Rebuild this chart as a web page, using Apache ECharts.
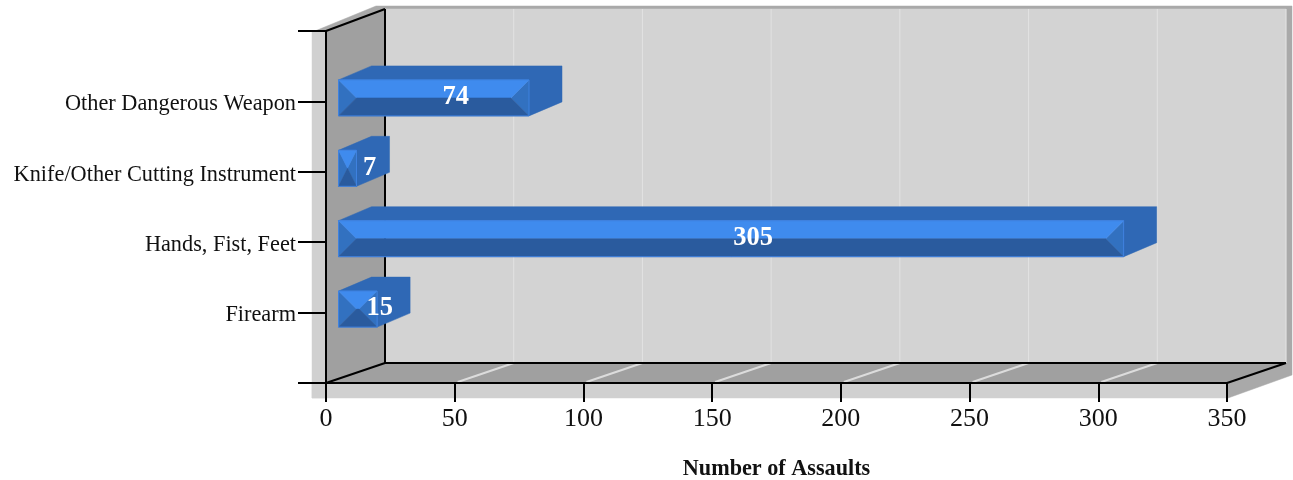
<!DOCTYPE html>
<html>
<head>
<meta charset="utf-8">
<style>html,body{margin:0;padding:0;background:#fff}#c{width:1293px;height:480px}</style>
<script src="https://cdn.jsdelivr.net/npm/echarts@6/dist/echarts.min.js"></script>
</head>
<body>
<div id="c"></div>
<script>
const categories = ['Firearm', 'Hands, Fist, Feet', 'Knife/Other Cutting Instrument', 'Other Dangerous Weapon'];
const assaults = [15, 305, 7, 74];
const xTicks = [0, 50, 100, 150, 200, 250, 300, 350];
const axisTitle = 'Number of Assaults';

const FONT = '"Liberation Serif", serif';
const xMax = xTicks[xTicks.length - 1];
const axisCats = [' '].concat(categories, ['  ']);
const rowMax = axisCats.length - 1;

function poly(points, fill, z2) {
  return { type: 'polygon', shape: { points }, style: { fill, stroke: fill, lineWidth: 0.5 }, z2: z2 || 0 };
}
function line(a, b, stroke, w, z2) {
  return { type: 'line', shape: { x1: a[0], y1: a[1], x2: b[0], y2: b[1] }, style: { stroke, lineWidth: w }, z2: z2 || 0 };
}

function renderWalls(params, api) {
  const bl = api.coord([0, 0]), tr = api.coord([xMax, rowMax]);
  const L = bl[0], B = bl[1], R = tr[0], T = tr[1];
  const dx = 59, dyB = -20, dyT = -22;
  const kids = [
    poly([[L - 14, T], [L, T], [L, B + 15], [L - 14, B + 15]], '#d0d0d0'),
    poly([[L - 14, B], [R, B], [R, B + 15], [L - 14, B + 15]], '#d0d0d0'),
    poly([[L - 11, T], [L + dx - 9, T + dyT - 3], [R + dx + 6, T + dyT - 3], [R + dx + 6, B + dyB + 12], [R + 1, B + 15], [R, B], [L, B], [L, T]], '#a9a9a9'),
    poly([[L + dx, T + dyT], [R + dx, T + dyT], [R + dx, B + dyB], [L + dx, B + dyB]], '#d3d3d3'),
    poly([[L, T], [L + dx, T + dyT], [L + dx, B + dyB], [L, B]], '#a0a0a0'),
    poly([[L, B], [L + dx, B + dyB], [R + dx, B + dyB], [R, B]], '#a0a0a0')
  ];
  xTicks.slice(1).forEach(t => {
    const x = api.coord([t, 0])[0];
    kids.push(line([x + dx, T + dyT], [x + dx, B + dyB], '#e2e2e2', 1, 1));
    if (t < xMax) kids.push(line([x + 3, B - 1], [x + dx, B + dyB], '#dcdcdc', 2, 1));
  });
  kids.push(line([L, T], [L + dx, T + dyT], '#000', 2, 2));
  kids.push(line([L + dx, T + dyT], [L + dx, B + dyB], '#000', 2, 2));
  kids.push(line([L, B], [L + dx, B + dyB], '#000', 2, 2));
  kids.push(line([L + dx, B + dyB], [R + dx, B + dyB], '#000', 2, 2));
  kids.push(line([R, B], [R + dx, B + dyB], '#000', 2, 2));
  return { type: 'group', children: kids };
}

function renderBar(params, api) {
  const v = api.value(0), row = api.value(1);
  const base = api.coord([0, row]), end = api.coord([v, row]);
  const xL = base[0] + 12.5, xR = end[0] + 12.5;
  const yM = base[1] - 3.5, yT = yM - 18, yB = yM + 18;
  const ox = 33, oy = -14;
  const inset = Math.min(18, (xR - xL) / 2);
  const mL = xL + inset, mR = xR - inset;
  return {
    type: 'group',
    children: [
      poly([[xL, yT], [xL + ox, yT + oy], [xR + ox, yT + oy], [xR + ox, yB + oy], [xR, yB], [xR, yT]], '#2f68b5'),
      poly([[xL, yT], [mL, yM], [xL, yB]], '#3271c0', 1),
      poly([[xR, yT], [mR, yM], [xR, yB]], '#3271c0', 1),
      poly([[xL, yT], [xR, yT], [mR, yM], [mL, yM]], '#3f8bee', 1),
      poly([[xL, yB], [xR, yB], [mR, yM], [mL, yM]], '#2a5b9e', 1),
      { type: 'rect', shape: { x: xL, y: yT, width: xR - xL, height: yB - yT },
        style: { fill: 'none', stroke: '#3f82e0', lineWidth: 1 }, z2: 2 },
      { type: 'text', x: (xL + xR) / 2 + 22, y: base[1] - 4, z2: 3,
        style: { text: String(v), fill: '#fff', font: 'bold 26.5px ' + FONT, align: 'center', verticalAlign: 'middle' } }
    ]
  };
}

const chart = echarts.init(document.getElementById('c'), null, { renderer: 'canvas' });
chart.setOption({
  animation: false,
  backgroundColor: '#ffffff',
  grid: { left: 326, top: 31, width: 901, height: 352, containLabel: false, outerBoundsMode: 'none' },
  xAxis: {
    type: 'value', min: 0, max: xMax, interval: 50, z: 5,
    name: axisTitle, nameLocation: 'middle', nameGap: 75,
    nameTextStyle: { color: '#111', fontFamily: FONT, fontWeight: 'bold', fontSize: 22.2 },
    axisLine: { show: true, lineStyle: { color: '#000', width: 2 } },
    axisTick: { show: true, length: 19, lineStyle: { color: '#000', width: 2 } },
    axisLabel: { color: '#111', fontFamily: FONT, fontSize: 26, margin: 23, showMinLabel: true, showMaxLabel: true, hideOverlap: false },
    splitLine: { show: false }
  },
  yAxis: {
    type: 'category', data: axisCats, boundaryGap: false, z: 5,
    axisLine: { show: true, lineStyle: { color: '#000', width: 2 } },
    axisTick: { show: true, length: 28, interval: 0, alignWithLabel: true, lineStyle: { color: '#000', width: 2 } },
    axisLabel: { color: '#111', fontFamily: FONT, fontSize: 22.3, margin: 30, interval: 0, hideOverlap: false, verticalAlign: 'top', lineHeight: 6 },
    splitLine: { show: false }
  },
  series: [
    { type: 'custom', silent: true, z: 1, coordinateSystem: 'cartesian2d', clip: false,
      data: [[0, 0]], encode: { x: 0, y: 1 }, renderItem: renderWalls },
    { type: 'custom', silent: true, z: 8, coordinateSystem: 'cartesian2d', clip: false,
      data: assaults.map((v, i) => [v, i + 1]), encode: { x: 0, y: 1 }, renderItem: renderBar }
  ]
});
</script>
</body>
</html>
